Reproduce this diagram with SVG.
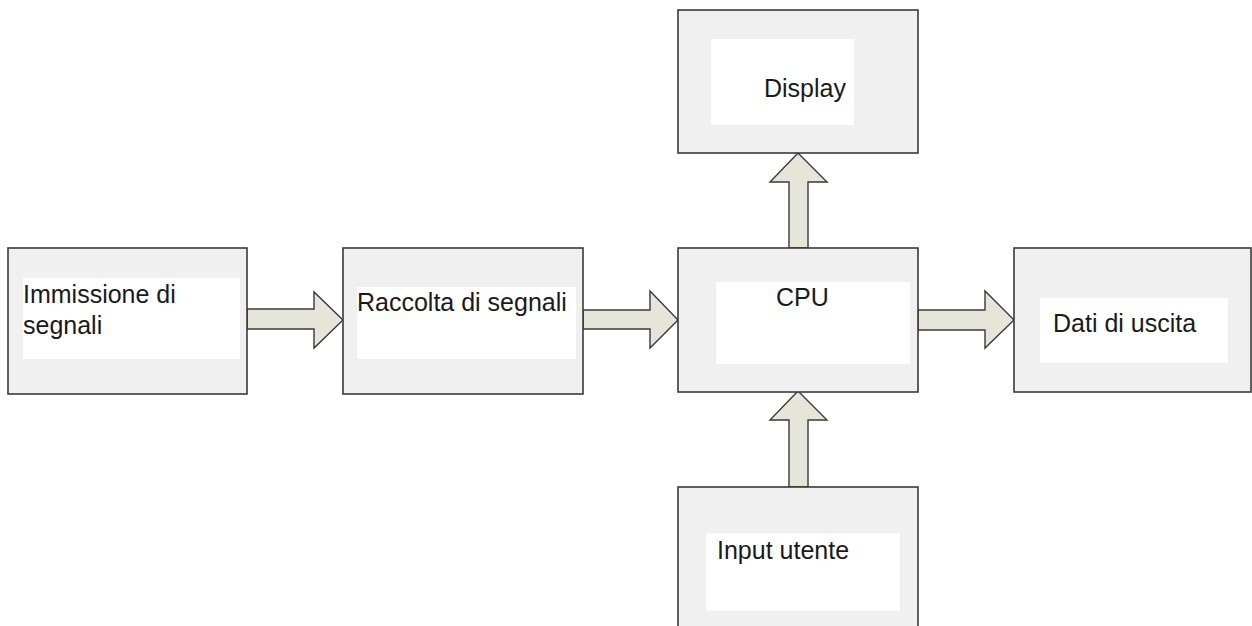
<svg xmlns="http://www.w3.org/2000/svg" width="1252" height="626" viewBox="0 0 1252 626">
<style>
.box{fill:#f0f0f0;stroke:#3a3a3a;stroke-width:1.6}
.inner{fill:#ffffff}
.lbl{font-family:"Liberation Sans",Arial,sans-serif;font-size:25px;fill:#1a1a1a}
.arr{fill:#e6e5da;stroke:#3a3a3a;stroke-width:1.4;stroke-linejoin:miter}
</style>
<rect width="1252" height="626" fill="#ffffff"/>
<g id="connectors">
<polygon class="arr" points="247,309 314,309 314,292 343,320 314,348 314,329 247,329"/>
<polygon class="arr" points="583,310 650,310 650,291 678,320 650,348 650,329 583,329"/>
<polygon class="arr" points="918,310 985,310 985,291 1014,320 985,348 985,330 918,330"/>
<polygon class="arr" points="789,248 789,182 770,182 798,153 827,182 808,182 808,248"/>
<polygon class="arr" points="789,487 789,420 770,420 798,391 827,420 808,420 808,487"/>
</g>
<g id="immissione">
<rect class="box" x="8" y="248" width="239" height="146"/>
<rect class="inner" x="23" y="278" width="217" height="81"/>
<text class="lbl" x="23" y="303">Immissione di</text>
<text class="lbl" x="23" y="334">segnali</text>
</g>
<g id="raccolta">
<rect class="box" x="343" y="248" width="240" height="146"/>
<rect class="inner" x="357" y="287" width="219" height="72"/>
<text class="lbl" x="357" y="311">Raccolta di segnali</text>
</g>
<g id="cpu">
<rect class="box" x="678" y="248" width="240" height="144"/>
<rect class="inner" x="716" y="282" width="194" height="82"/>
<text class="lbl" x="776" y="306">CPU</text>
</g>
<g id="display">
<rect class="box" x="678" y="10" width="240" height="143"/>
<rect class="inner" x="711" y="39" width="143" height="86"/>
<text class="lbl" x="764" y="97">Display</text>
</g>
<g id="dati">
<rect class="box" x="1014" y="248" width="237" height="144"/>
<rect class="inner" x="1040" y="298" width="188" height="65"/>
<text class="lbl" x="1053" y="332">Dati di uscita</text>
</g>
<g id="input">
<rect class="box" x="678" y="487" width="240" height="150"/>
<rect class="inner" x="706" y="533" width="194" height="78"/>
<text class="lbl" x="717" y="559">Input utente</text>
</g>
</svg>
